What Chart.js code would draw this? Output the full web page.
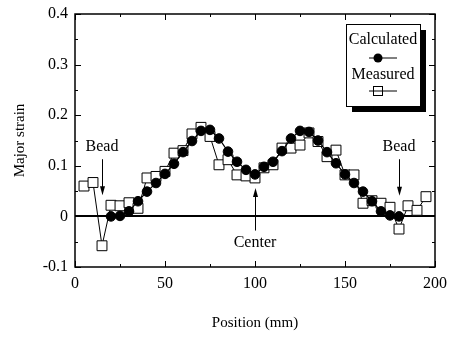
<!DOCTYPE html>
<html><head><meta charset="utf-8">
<script src="https://cdn.jsdelivr.net/npm/chart.js@4.4.0/dist/chart.umd.min.js"></script>
<style>html,body{margin:0;padding:0;background:#fff}canvas{display:block}</style>
</head><body>
<canvas id="c" width="449" height="337"></canvas>
<script>
// ---- data ----
const calcPos = [20,25,30,35,40,45,50,55,60,65,70,75,80,85,90,95,100,105,110,115,120,125,130,135,140,145,150,155,160,165,170,175,180];
const calcStrain = [0.000,0.001,0.010,0.030,0.049,0.066,0.084,0.104,0.127,0.149,0.169,0.171,0.154,0.128,0.108,0.092,0.083,0.098,0.108,0.129,0.154,0.169,0.167,0.150,0.127,0.105,0.083,0.066,0.049,0.030,0.010,0.002,0.000];
const measPos = [5,10,15,20,25,30,35,40,45,50,55,60,65,70,75,80,85,90,95,100,105,110,115,120,125,130,135,140,145,150,155,160,165,170,175,180,185,190,195];
const measStrain = [0.060,0.067,-0.058,0.022,0.021,0.027,0.016,0.076,0.079,0.089,0.125,0.130,0.163,0.176,0.158,0.102,0.112,0.082,0.080,0.076,0.096,0.102,0.135,0.135,0.141,0.165,0.148,0.118,0.131,0.082,0.082,0.026,0.031,0.026,0.018,-0.025,0.021,0.012,0.039];
const xTicks = [0,50,100,150,200];
const xTickLabels = ['0','50','100','150','200'];
const xMinorTicks = [25,75,125,175];
const yTicks = [-0.1,0,0.1,0.2,0.3,0.4];
const yTickLabels = ['-0.1','0','0.1','0.2','0.3','0.4'];
const yMinorTicks = [-0.05,0.05,0.15,0.25,0.35];
const seriesNames = ['Calculated','Measured'];
const annotations = [
  {text:'Bead', x:15, textY:0.137, from:0.113, to:0.042},
  {text:'Bead', x:180, textY:0.137, from:0.113, to:0.041},
  {text:'Center', x:100, textY:-0.052, from:-0.028, to:0.056}
];
const xTitle = 'Position (mm)';
const yTitle = 'Major strain';

const FONT = 'Liberation Serif';

function arrow(ctx, x, y1, y2){
  const dir = y2 > y1 ? 1 : -1;
  ctx.beginPath(); ctx.moveTo(x, y1); ctx.lineTo(x, y2 - dir*6); ctx.stroke();
  ctx.beginPath(); ctx.moveTo(x, y2); ctx.lineTo(x-2.5, y2 - dir*9); ctx.lineTo(x+2.5, y2 - dir*9); ctx.closePath(); ctx.fill();
}

const decor = {
  id:'decor',
  beforeDatasetsDraw(chart){
    const {ctx, chartArea:a, scales:{y}} = chart;
    ctx.save();
    ctx.strokeStyle = '#000'; ctx.lineWidth = 2;
    const y0 = Math.round(y.getPixelForValue(0));
    ctx.beginPath(); ctx.moveTo(a.left, y0); ctx.lineTo(a.right, y0); ctx.stroke();
    ctx.restore();
  },
  afterDraw(chart){
    const {ctx, chartArea:a, scales:{x,y}} = chart;
    ctx.save();
    ctx.strokeStyle = '#000'; ctx.fillStyle = '#000'; ctx.lineWidth = 1.5;
    ctx.strokeRect(a.left, a.top, a.right-a.left, a.bottom-a.top);
    ctx.lineWidth = 1;
    const tk = (vals, len, axis) => {
      vals.forEach(v => {
        if (axis === 'x') {
          const px = Math.round(x.getPixelForValue(v)) + 0.5;
          ctx.beginPath(); ctx.moveTo(px, a.bottom); ctx.lineTo(px, a.bottom-len); ctx.stroke();
          ctx.beginPath(); ctx.moveTo(px, a.top); ctx.lineTo(px, a.top+len); ctx.stroke();
        } else {
          const py = Math.round(y.getPixelForValue(v)) + 0.5;
          ctx.beginPath(); ctx.moveTo(a.left, py); ctx.lineTo(a.left+len, py); ctx.stroke();
          ctx.beginPath(); ctx.moveTo(a.right, py); ctx.lineTo(a.right-len, py); ctx.stroke();
        }
      });
    };
    tk(xTicks, 6, 'x'); tk(xMinorTicks, 3, 'x');
    tk(yTicks, 6, 'y'); tk(yMinorTicks, 3, 'y');
    ctx.font = '15px "' + FONT + '"';
    ctx.textAlign = 'center'; ctx.textBaseline = 'middle';
    ctx.fillText(xTitle, (a.left+a.right)/2, 323);
    ctx.save();
    ctx.translate(20, (a.top+a.bottom)/2);
    ctx.rotate(-Math.PI/2);
    ctx.fillText(yTitle, 0, 0);
    ctx.restore();
    ctx.font = '16px "' + FONT + '"';
    annotations.forEach(an => {
      const px = x.getPixelForValue(an.x);
      ctx.fillText(an.text, px, y.getPixelForValue(an.textY));
      arrow(ctx, Math.round(px)+0.5, y.getPixelForValue(an.from), y.getPixelForValue(an.to));
    });
    const lx = a.right - 89, ly = a.top + 10, lw = 74, lh = 82;
    ctx.fillStyle = '#000';
    ctx.fillRect(lx+6, ly+6, lw, lh);
    ctx.fillStyle = '#fff';
    ctx.fillRect(lx, ly, lw, lh);
    ctx.strokeStyle = '#000'; ctx.lineWidth = 1;
    ctx.strokeRect(lx+0.5, ly+0.5, lw, lh);
    ctx.fillStyle = '#000';
    const cx = lx + lw/2;
    ctx.fillText(seriesNames[0], cx, ly+16);
    ctx.beginPath(); ctx.moveTo(cx-14, ly+34); ctx.lineTo(cx+14, ly+34); ctx.stroke();
    ctx.beginPath(); ctx.arc(cx-5, ly+34, 4.5, 0, Math.PI*2); ctx.fill();
    ctx.fillText(seriesNames[1], cx, ly+51);
    ctx.beginPath(); ctx.moveTo(cx-14, ly+67); ctx.lineTo(cx+14, ly+67); ctx.stroke();
    ctx.fillStyle = '#fff';
    ctx.fillRect(cx-10, ly+62, 10, 10);
    ctx.strokeRect(cx-10+0.5, ly+62+0.5, 9, 9);
    ctx.beginPath(); ctx.moveTo(cx-10, ly+67); ctx.lineTo(cx, ly+67); ctx.stroke();
    ctx.restore();
  }
};

new Chart(document.getElementById('c'), {
  type:'scatter',
  data:{datasets:[
    {label:seriesNames[0], data:calcPos.map((p,i)=>({x:p,y:calcStrain[i]})), showLine:true,
     borderColor:'#000', backgroundColor:'#000', borderWidth:1.2,
     pointStyle:'circle', pointRadius:4.8, pointBackgroundColor:'#000', pointBorderColor:'#000', pointBorderWidth:1},
    {label:seriesNames[1], data:measPos.map((p,i)=>({x:p,y:measStrain[i]})), showLine:true,
     borderColor:'#000', backgroundColor:'#fff', borderWidth:1,
     pointStyle:'rect', pointRadius:7, pointBackgroundColor:'#fff', pointBorderColor:'#000', pointBorderWidth:1}
  ]},
  options:{
    responsive:false, animation:false, devicePixelRatio:1,
    layout:{padding:{left:0,right:14,top:14,bottom:0}},
    elements:{line:{tension:0}},
    plugins:{legend:{display:false}, tooltip:{enabled:false}},
    scales:{
      x:{type:'linear', min:0, max:200,
        afterBuildTicks:s=>{s.ticks = xTicks.map(v=>({value:v}));},
        afterFit:s=>{s.height = 70; s.paddingLeft = 0; s.paddingRight = 0;},
        grid:{display:false, drawTicks:false}, border:{display:false},
        ticks:{padding:7, color:'#000', autoSkip:false, maxRotation:0, font:{family:FONT, size:16},
          callback:(v,i)=>xTickLabels[i]}},
      y:{type:'linear', min:-0.1, max:0.4,
        afterBuildTicks:s=>{s.ticks = yTicks.map(v=>({value:v}));},
        afterFit:s=>{s.width = 75; s.paddingTop = 0; s.paddingBottom = 0;},
        grid:{display:false, drawTicks:false}, border:{display:false},
        ticks:{padding:7, color:'#000', autoSkip:false, font:{family:FONT, size:16},
          callback:(v,i)=>yTickLabels[i]}}
    }
  },
  plugins:[decor]
});
</script>
</body></html>
